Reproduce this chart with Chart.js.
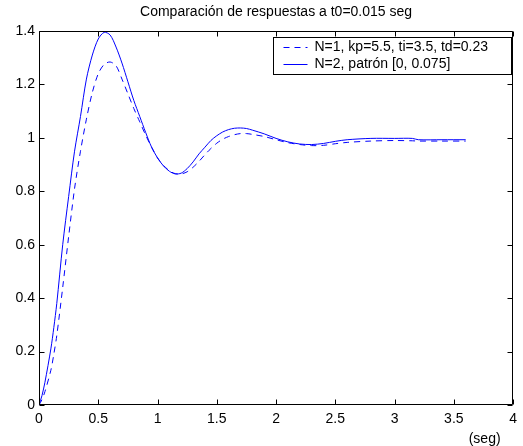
<!DOCTYPE html>
<html>
<head>
<meta charset="utf-8">
<script src="https://cdn.jsdelivr.net/npm/chart.js@4.4.1/dist/chart.umd.min.js"></script>
<style>
  html, body { margin: 0; padding: 0; background: #fff; }
  #wrap { width: 523px; height: 446px; }
</style>
</head>
<body>
<div id="wrap"><canvas id="grafica"></canvas></div>
<script>
// Respuesta al escalón de los dos controladores (tiempo en segundos)
const tiempo = [0, 0.025, 0.05, 0.1, 0.125, 0.15,
    0.2, 0.25, 0.3, 0.35, 0.4, 0.45, 0.5, 0.55, 0.6, 0.65, 0.7, 0.75, 0.8, 0.85,
    0.9, 0.95, 1.0, 1.05, 1.1, 1.15, 1.2, 1.25, 1.3, 1.35, 1.4, 1.45, 1.5, 1.55,
    1.6, 1.65, 1.7, 1.75, 1.8,
    1.9, 2.0, 2.1, 2.2, 2.3, 2.4, 2.5, 2.6,
    2.8, 3.0, 3.15, 3.2, 3.4, 3.6];

// N=1, kp=5.5, ti=3.5, td=0.23 (discontinua)
const respN1 = [0, 0.02, 0.05, 0.13, 0.19, 0.26,
    0.44, 0.63, 0.81, 0.95, 1.07, 1.17, 1.24, 1.275, 1.284, 1.27, 1.22, 1.165, 1.11, 1.06,
    1.01, 0.965, 0.925, 0.897, 0.877, 0.866, 0.865, 0.873, 0.89, 0.912, 0.937, 0.96, 0.98, 0.995,
    1.005, 1.012, 1.016, 1.016, 1.013,
    1.005, 0.993, 0.982, 0.975, 0.971, 0.972, 0.978, 0.983,
    0.988, 0.99, 0.989, 0.988, 0.988, 0.988];

// N=2, patrón [0, 0.075] (continua)
const respN2 = [0, 0.035, 0.085, 0.21, 0.29, 0.38,
    0.6, 0.78, 0.95, 1.08, 1.22, 1.31, 1.37, 1.395, 1.385, 1.34, 1.28, 1.21, 1.14, 1.08,
    1.02, 0.965, 0.925, 0.895, 0.875, 0.865, 0.868, 0.885, 0.91, 0.94, 0.965, 0.99, 1.008, 1.022,
    1.031, 1.036, 1.037, 1.035, 1.029,
    1.015, 0.998, 0.985, 0.977, 0.975, 0.979, 0.987, 0.993,
    0.998, 0.998, 0.998, 0.993, 0.993, 0.993];

const etiquetas = ['N=1, kp=5.5, ti=3.5, td=0.23', 'N=2, patrón [0, 0.075]'];
const ticksX = [0, 0.5, 1, 1.5, 2, 2.5, 3, 3.5, 4];
const ticksY = [0, 0.2, 0.4, 0.6, 0.8, 1, 1.2, 1.4];

const FUENTE = "Arial, 'Liberation Sans', sans-serif";
const AZUL = '#0000ff';

function puntos(ys) {
    return tiempo.map((t, i) => ({ x: t, y: ys[i] }));
}

// Marco cerrado con marcas hacia dentro en los cuatro lados
const marco = {
    id: 'marco',
    afterDatasetsDraw(chart) {
        const { ctx, chartArea: a, scales: { x, y } } = chart;
        const L = 5;
        ctx.save();
        ctx.strokeStyle = '#000';
        ctx.lineWidth = 1;
        ctx.beginPath();
        const l = Math.round(a.left) + 0.5, r = Math.round(a.right) - 0.5;
        const t = Math.round(a.top) + 0.5, b = Math.round(a.bottom) - 0.5;
        ctx.rect(l, t, r - l, b - t);
        ticksX.forEach(v => {
            const px = Math.round(x.getPixelForValue(v)) + 0.5;
            ctx.moveTo(px, b); ctx.lineTo(px, b - L);
            ctx.moveTo(px, t); ctx.lineTo(px, t + L);
        });
        ticksY.forEach(v => {
            const py = Math.round(y.getPixelForValue(v)) + 0.5;
            ctx.moveTo(l, py); ctx.lineTo(l + L, py);
            ctx.moveTo(r, py); ctx.lineTo(r - L, py);
        });
        ctx.stroke();
        ctx.restore();
    },
    afterDraw(chart) {
        const { ctx, chartArea: a, scales: { x } } = chart;
        ctx.save();
        ctx.font = '14px ' + FUENTE;
        ctx.fillStyle = '#000';
        ctx.textAlign = 'center';
        ctx.textBaseline = 'middle';
        ctx.fillText('(seg)', x.getPixelForValue(3.76), a.bottom + 34);

        // Leyenda dentro del área de trazado
        const bx = 273.5, by = 37.5, bw = 238, bh = 37;
        ctx.fillStyle = '#fff';
        ctx.fillRect(bx, by, bw, bh);
        ctx.strokeStyle = '#000';
        ctx.lineWidth = 1;
        ctx.strokeRect(bx, by, bw, bh);
        const filas = [by + 9, by + 26];
        chart.data.datasets.forEach((ds, i) => {
            const yy = Math.round(filas[i]) + 0.5;
            ctx.beginPath();
            ctx.strokeStyle = ds.borderColor;
            ctx.setLineDash(ds.borderDash || []);
            ctx.moveTo(bx + 10, yy);
            ctx.lineTo(bx + 34, yy);
            ctx.stroke();
            ctx.setLineDash([]);
            ctx.fillStyle = '#000';
            ctx.textAlign = 'left';
            ctx.fillText(ds.label, bx + 41, yy);
        });
        ctx.restore();
    }
};

new Chart(document.getElementById('grafica'), {
    type: 'line',
    data: {
        datasets: [{
            label: etiquetas[0],
            data: puntos(respN1),
            borderColor: AZUL,
            borderWidth: 1,
            borderDash: [6, 5],
            pointRadius: 0,
            tension: 0.3,
            fill: false
        }, {
            label: etiquetas[1],
            data: puntos(respN2),
            borderColor: AZUL,
            borderWidth: 1,
            pointRadius: 0,
            tension: 0.3,
            fill: false
        }]
    },
    options: {
        responsive: true,
        maintainAspectRatio: false,
        animation: false,
        layout: { padding: { top: 0, right: 6, bottom: 0, left: 0 } },
        scales: {
            x: {
                type: 'linear',
                min: 0,
                max: 4,
                afterBuildTicks: s => { s.ticks = ticksX.map(v => ({ value: v })); },
                afterFit: s => { s.height = 41; },
                grid: { display: false, drawTicks: false },
                border: { display: false },
                ticks: {
                    padding: 6,
                    color: '#000',
                    font: { family: FUENTE, size: 14 },
                    maxRotation: 0,
                    callback: v => String(+v.toFixed(1))
                }
            },
            y: {
                type: 'linear',
                min: 0,
                max: 1.4,
                afterBuildTicks: s => { s.ticks = ticksY.map(v => ({ value: v })); },
                afterFit: s => { s.width = 39; },
                grid: { display: false, drawTicks: false },
                border: { display: false },
                ticks: {
                    padding: 4,
                    color: '#000',
                    font: { family: FUENTE, size: 14 },
                    callback: v => String(+v.toFixed(1))
                }
            }
        },
        plugins: {
            legend: { display: false },
            tooltip: { enabled: false },
            title: {
                display: true,
                fullSize: false,
                text: 'Comparación de respuestas a t0=0.015 seg',
                color: '#000',
                font: { family: FUENTE, size: 14, weight: 'normal', lineHeight: 1.2 },
                padding: { top: 4, bottom: 10.2 }
            }
        }
    },
    plugins: [marco]
});
</script>
</body>
</html>
